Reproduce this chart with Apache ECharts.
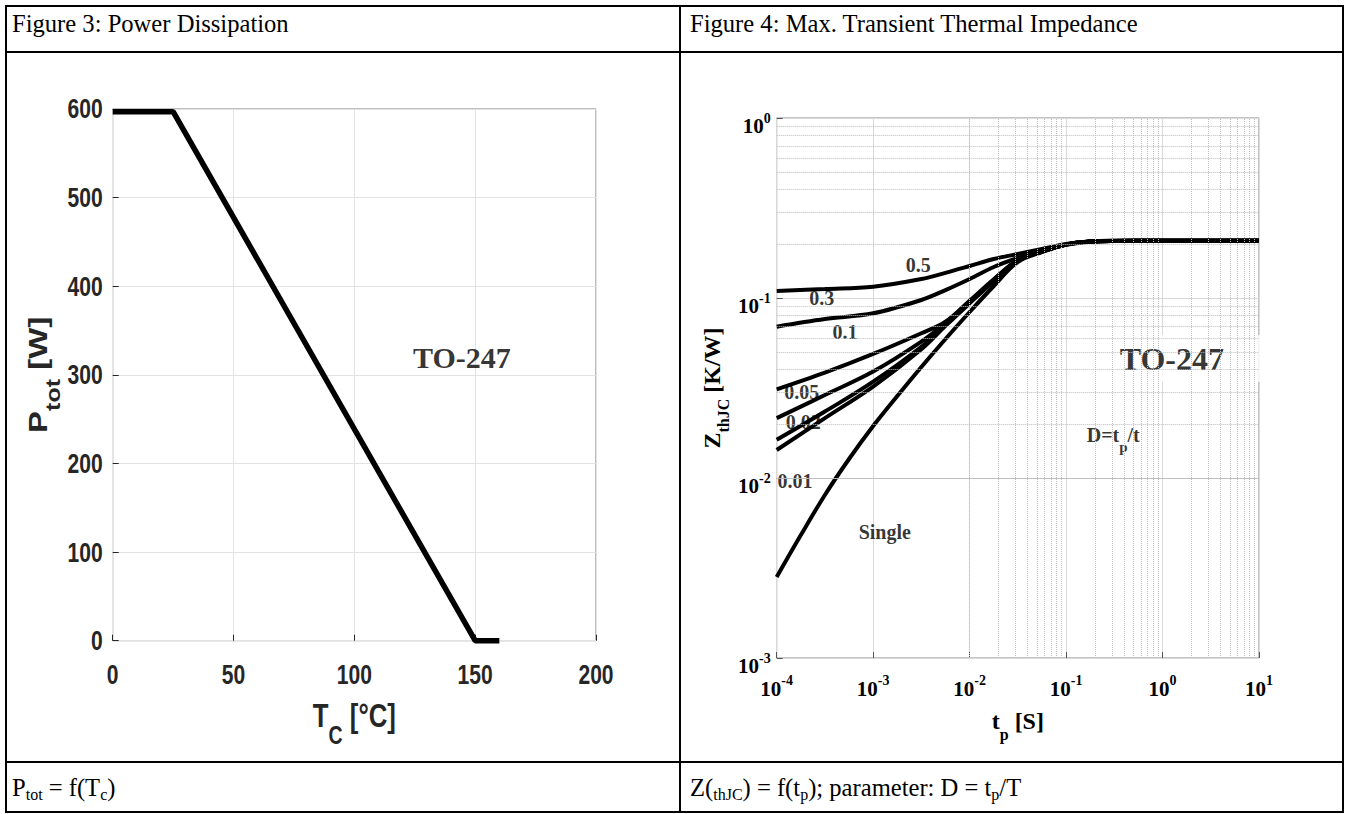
<!DOCTYPE html>
<html><head><meta charset="utf-8">
<script src="https://cdn.jsdelivr.net/npm/echarts@6/dist/echarts.min.js"></script>
<style>
html,body{margin:0;padding:0;background:#fff;}
#wrap{position:relative;width:1349px;height:814px;overflow:hidden;font-family:'Liberation Serif','Times New Roman',serif;}
.ln{position:absolute;background:#000;}
.cap{position:absolute;font-size:24.6px;line-height:24px;color:#000;white-space:nowrap;}
.cap sub{font-size:16px;vertical-align:-4px;line-height:0;}
#chart{position:absolute;left:0;top:0;width:1349px;height:814px;}
</style></head>
<body><div id="wrap">
<div class="ln" style="left:5px;top:5px;width:1339px;height:2px"></div>
<div class="ln" style="left:5px;top:811px;width:1339px;height:2px"></div>
<div class="ln" style="left:5px;top:5px;width:2px;height:808px"></div>
<div class="ln" style="left:1342px;top:5px;width:2px;height:808px"></div>
<div class="ln" style="left:679px;top:5px;width:2px;height:808px"></div>
<div class="ln" style="left:5px;top:51px;width:1339px;height:2px"></div>
<div class="ln" style="left:5px;top:761px;width:1339px;height:2px"></div>
<div class="cap" style="left:12px;top:12px">Figure 3: Power Dissipation</div>
<div class="cap" style="left:690px;top:12px">Figure 4: Max. Transient Thermal Impedance</div>
<div class="cap" style="left:12px;top:776px">P<sub>tot</sub> = f(T<sub>c</sub>)</div>
<div class="cap" style="left:690px;top:776px">Z(<sub>thJC</sub>) = f(t<sub>p</sub>); parameter: D = t<sub>p</sub>/T</div>
<div id="chart"></div>
</div>
<script>
// ---- Figure 3 data ----
const tc = [0, 25, 150, 160];
const ptot = [597, 597, 0, 0];
const tcTicks = [0, 50, 100, 150, 200];
const ptotTicks = [0, 100, 200, 300, 400, 500, 600];
const leftLabel = ['TO-247'];
const leftLabelX = [144.5];
const leftLabelY = [320];

// ---- Figure 4 data ----
const tp = [1e-4, 3.16e-4, 1e-3, 3.16e-3, 5.62e-3, 1e-2, 1.78e-2, 3.16e-2, 5.62e-2, 0.1, 0.178, 0.316, 1, 10];
const zD05  = [0.1094, 0.1122, 0.1155, 0.1275, 0.138, 0.1506, 0.1647, 0.1756, 0.1872, 0.1995, 0.206, 0.2078, 0.208, 0.208];
const zD03  = [0.0693, 0.0764, 0.0822, 0.0975, 0.1106, 0.1275, 0.1486, 0.1668, 0.1825, 0.1983, 0.206, 0.2078, 0.208, 0.208];
const zD01  = [0.0311, 0.0385, 0.0489, 0.0637, 0.0738, 0.0966, 0.127, 0.1626, 0.181, 0.198, 0.2058, 0.2076, 0.208, 0.208];
const zD005 = [0.0215, 0.0289, 0.0390, 0.0572, 0.0725, 0.0954, 0.126, 0.162, 0.181, 0.198, 0.2058, 0.2076, 0.208, 0.208];
const zD002 = [0.0163, 0.0234, 0.0343, 0.0536, 0.0710, 0.0942, 0.125, 0.1615, 0.181, 0.198, 0.2058, 0.2076, 0.208, 0.208];
const zD001 = [0.0143, 0.0215, 0.0322, 0.0519, 0.0700, 0.0934, 0.124, 0.161, 0.181, 0.198, 0.2058, 0.2076, 0.208, 0.208];
const tpS = [1e-4, 1.78e-4, 3.16e-4, 5.62e-4, 1e-3, 1.78e-3, 3.16e-3, 5.62e-3, 1e-2, 1.78e-2, 3.16e-2, 5.62e-2, 0.1, 0.178, 0.316, 1, 10];
const zSingle = [0.00282, 0.00482, 0.00805, 0.01275, 0.01945, 0.02856, 0.0414, 0.0592, 0.0836, 0.1166, 0.1585, 0.18, 0.1975, 0.2055, 0.2075, 0.208, 0.208];

const curveLabels = ['0.5', '0.3', '0.1', '0.05', '0.02', '0.01', 'Single'];
const curveLabelT = [2.94e-3, 2.93e-4, 5.12e-4, 1.82e-4, 1.89e-4, 1.55e-4, 1.32e-3];
const curveLabelZ = [0.1525, 0.0996, 0.065, 0.0302, 0.0206, 0.00962, 0.00503];
const dLabelPos = [0.308, 0.01734];
const pkgLabelPos = [2.01, 0.0461];

const minorMult = [2, 3, 4, 5, 6, 7, 8, 9];
const decadesT = [1e-4, 1e-3, 1e-2, 1e-1, 1];
const decadesZ = [1e-3, 1e-2, 1e-1];

const FS = "'Liberation Sans',Arial,sans-serif";
const FT = "'Liberation Serif','Times New Roman',serif";
const INK = '#262626';
const SQUASH = 0.78;

const minorLines = [];
decadesT.forEach(d => minorMult.forEach(m => minorLines.push({ xAxis: d * m })));
decadesZ.forEach(d => minorMult.forEach(m => minorLines.push({ yAxis: d * m })));

const pow10 = v => '{b|10}{s|' + Math.round(Math.log10(v)) + '}';
const powRich = {
  b: { fontFamily: FT, fontWeight: 'bold', fontSize: 21, color: '#000', padding: [16, 0, 0, 0] },
  s: { fontFamily: FT, fontWeight: 'bold', fontSize: 14, color: '#000' }
};

const chart = echarts.init(document.getElementById('chart'), null, { renderer: 'svg' });

function curve(name, xs, ys) {
  return {
    name, type: 'line', xAxisIndex: 1, yAxisIndex: 1,
    data: xs.map((x, i) => [x, ys[i]]),
    symbol: 'none', smooth: 0.35, z: 4, silent: true,
    lineStyle: { color: '#000', width: 4 }
  };
}

chart.setOption({
  animation: false,
  grid: [
    { left: 112.7, top: 109, width: 483.3, height: 531.7, show: true, borderColor: '#7a7a7a', borderWidth: 1 },
    { left: 776.7, top: 118, width: 482.3, height: 540, show: true, borderColor: '#8a8a8a', borderWidth: 1 }
  ],
  xAxis: [
    {
      gridIndex: 0, type: 'value', min: 0, max: 200, interval: 50,
      axisLine: { show: false },
      axisTick: { inside: true, length: 6, lineStyle: { color: INK } },
      splitLine: { lineStyle: { color: '#e3e3e3' } },
      axisLabel: { show: false }
    },
    {
      gridIndex: 1, type: 'log', logBase: 10, min: 1e-4, max: 10,
      axisLine: { show: false },
      axisTick: { inside: true, length: 6, lineStyle: { color: '#555' } },
      splitLine: { lineStyle: { color: '#d9d9d9' } },
      axisLabel: { margin: 4, formatter: pow10, rich: powRich },
      name: '{m|t}{s|p}{m| [S]}', nameLocation: 'middle', nameGap: 42,
      nameTextStyle: { rich: {
        m: { fontFamily: FT, fontWeight: 'bold', fontSize: 24, color: '#000' },
        s: { fontFamily: FT, fontWeight: 'bold', fontSize: 16, color: '#000', padding: [26, 0, 0, 0] }
      } }
    }
  ],
  yAxis: [
    {
      gridIndex: 0, type: 'value', min: 0, max: 600, interval: 100,
      axisLine: { show: false },
      axisTick: { inside: true, length: 6, lineStyle: { color: INK } },
      splitLine: { lineStyle: { color: '#e3e3e3' } },
      axisLabel: { show: false }
    },
    {
      gridIndex: 1, type: 'log', logBase: 10, min: 1e-3, max: 1, splitNumber: 3,
      axisLine: { show: false },
      axisTick: { inside: true, length: 6, lineStyle: { color: '#555' } },
      splitLine: { lineStyle: { color: '#d9d9d9' } },
      axisLabel: { margin: 6, formatter: pow10, rich: powRich },
      name: '{m|Z}{s|thJC}{m| [K/W]}', nameLocation: 'middle', nameGap: 45,
      nameTextStyle: { rich: {
        m: { fontFamily: FT, fontWeight: 'bold', fontSize: 24, color: '#000' },
        s: { fontFamily: FT, fontWeight: 'bold', fontSize: 16, color: '#000', padding: [24, 0, 0, 0] }
      } }
    }
  ],
  series: [
    {
      type: 'line', xAxisIndex: 0, yAxisIndex: 0,
      data: tc.map((t, i) => [t, ptot[i]]),
      symbol: 'none', clip: false, z: 4, silent: true,
      lineStyle: { color: '#000', width: 5.5 }
    },
    {
      type: 'scatter', xAxisIndex: 0, yAxisIndex: 0, z: 3, silent: true,
      data: leftLabel.map((s, i) => [leftLabelX[i], leftLabelY[i], s]),
      symbolSize: 1, itemStyle: { color: 'rgba(0,0,0,0)' },
      label: { show: true, position: 'inside', formatter: p => p.data[2],
        fontFamily: FT, fontWeight: 'bold', fontSize: 30, color: '#000' }
    },
    {
      type: 'line', xAxisIndex: 1, yAxisIndex: 1, z: 1, silent: true,
      data: [[1e-4, 1e-3]], symbol: 'none', lineStyle: { width: 0 },
      markLine: {
        silent: true, symbol: ['none', 'none'], label: { show: false },
        lineStyle: { type: 'dotted', color: '#bdbdbd', width: 1 },
        data: minorLines
      }
    },
    {
      type: 'scatter', xAxisIndex: 1, yAxisIndex: 1, z: 2, silent: true,
      symbolSize: 1, itemStyle: { color: 'rgba(0,0,0,0)' },
      data: curveLabels.map((s, i) => [curveLabelT[i], curveLabelZ[i], s]).concat([
        { value: [dLabelPos[0], dLabelPos[1], 'D'], label: {
          formatter: '{n|D=t}{s|p}{n|/t}',
          rich: {
            n: { fontFamily: FT, fontWeight: 'bold', fontSize: 20, color: '#000' },
            s: { fontFamily: FT, fontWeight: 'bold', fontSize: 15, color: '#000', padding: [24, 0, 0, 0] }
          } } },
        { value: [pkgLabelPos[0], pkgLabelPos[1], 'TO-247'], label: {
          formatter: 'TO-247', fontSize: 32, backgroundColor: '#fff', padding: [7, 45, 8, 5] } }
      ]),
      label: { show: true, position: 'inside', formatter: p => p.data[2] !== undefined ? p.data[2] : p.value[2],
        fontFamily: FT, fontWeight: 'bold', fontSize: 20, color: '#000' }
    },
    curve('0.5', tp, zD05),
    curve('0.3', tp, zD03),
    curve('0.1', tp, zD01),
    curve('0.05', tp, zD005),
    curve('0.02', tp, zD002),
    curve('0.01', tp, zD001),
    curve('Single', tpS, zSingle)
  ]
});

// Figure 3 tick labels and axis titles: condensed (horizontally squashed) text placed via the axis scales
const g0 = { xAxisIndex: 0, yAxisIndex: 0 };
const graphics = [];
tcTicks.forEach(v => {
  const p = chart.convertToPixel(g0, [v, 0]);
  graphics.push({ type: 'text', x: p[0], y: p[1] + 33.5, scaleX: SQUASH, silent: true, z: 10,
    style: { text: String(v), fontFamily: FS, fontWeight: 'bold', fontSize: 27, fill: INK, align: 'center', verticalAlign: 'middle' } });
});
ptotTicks.forEach(v => {
  const p = chart.convertToPixel(g0, [0, v]);
  graphics.push({ type: 'text', x: p[0] - 10, y: p[1], scaleX: SQUASH, silent: true, z: 10,
    style: { text: String(v), fontFamily: FS, fontWeight: 'bold', fontSize: 27, fill: INK, align: 'right', verticalAlign: 'middle' } });
});
const pMid = chart.convertToPixel(g0, [100, 300]);
const pOrigin = chart.convertToPixel(g0, [0, 0]);
const nameRichX = {
  m: { fontFamily: FS, fontWeight: 'bold', fontSize: 33, fill: INK },
  s: { fontFamily: FS, fontWeight: 'bold', fontSize: 25, fill: INK, padding: [40, 0, 0, 0] }
};
graphics.push({ type: 'text', x: pMid[0], y: pOrigin[1] + 75, scaleX: SQUASH, silent: true, z: 10,
  style: { text: '{m|T}{s|C}{m| [°C]}', rich: nameRichX, align: 'center', verticalAlign: 'middle' } });
graphics.push({ type: 'text', x: pOrigin[0] - 75, y: pMid[1], rotation: Math.PI / 2, scaleY: SQUASH, silent: true, z: 10,
  style: { text: '{m|P}{s|tot}{m| [W]}', rich: nameRichX, align: 'center', verticalAlign: 'middle' } });
chart.setOption({ graphic: graphics });
</script>
</body></html>
